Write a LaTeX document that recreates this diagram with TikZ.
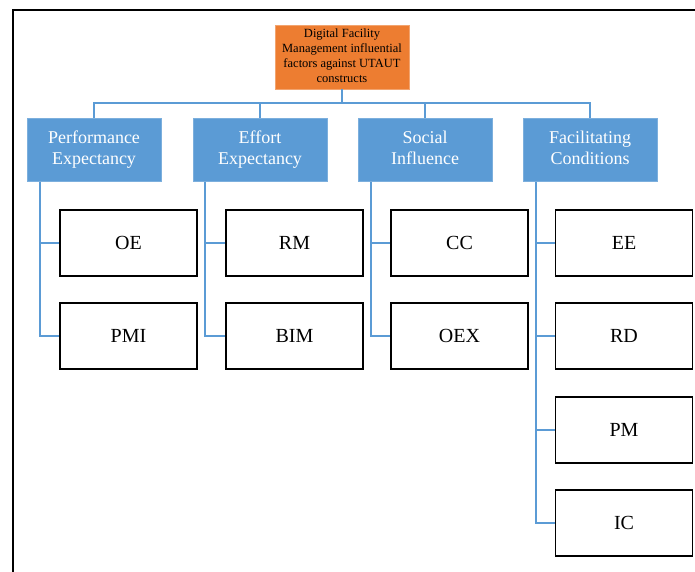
\documentclass[tikz,border=0pt]{standalone}
\usepackage{fontspec}
\setmainfont{Liberation Serif}
\definecolor{rootorange}{HTML}{ED7D31}
\definecolor{groupblue}{HTML}{5B9BD5}
\definecolor{linkblue}{HTML}{5B9BD5}
\tikzset{
  rootbox/.style={draw=rootorange!70!white, line width=0.8pt, fill=rootorange, text=black,
    minimum width=134pt, minimum height=64pt, inner sep=1pt, align=center,
    font=\fontsize{12.5}{15}\selectfont},
  groupbox/.style={draw=groupblue!80!white, line width=0.8pt, fill=groupblue, text=white,
    minimum width=134pt, minimum height=63pt, inner sep=1pt, align=center,
    font=\fontsize{18}{21}\selectfont},
  itembox/.style={draw=black, line width=1.8pt, fill=white,
    minimum width=137pt, minimum height=66pt, inner sep=1pt,
    font=\fontsize{20}{24}\selectfont},
  conn/.style={draw=linkblue, line width=1.8pt},
}
\begin{document}
\begin{tikzpicture}[x=1pt, y=-1pt]
\useasboundingbox (0,0) rectangle (695,572);
% outer frame
\draw[line width=2pt] (13,580) -- (13,10) -- (700,10);

% root
\node[rootbox] (root) at (342,57) {\strut Digital Facility\\\strut Management influential\\\strut factors against UTAUT\\\strut constructs};

% construct groups
\node[groupbox] (pe) at (94,150)  {\strut Performance\\\strut Expectancy};
\node[groupbox] (ef) at (260,150) {\strut Effort\\\strut Expectancy};
\node[groupbox] (si) at (425,150) {\strut Social\\\strut Influence};
\node[groupbox] (fc) at (590,150) {\strut Facilitating\\\strut Conditions};

% factors
\node[itembox] (oe)  at (128.5,243) {OE};
\node[itembox] (pmi) at (128.5,336) {PMI};
\node[itembox] (rm)  at (294.5,243) {RM};
\node[itembox] (bim) at (294.5,336) {BIM};
\node[itembox] (cc)  at (459.5,243) {CC};
\node[itembox] (oex) at (459.5,336) {OEX};
\node[itembox] (ee)  at (624,243) {EE};
\node[itembox] (rd)  at (624,336) {RD};
\node[itembox] (pm)  at (624,430) {PM};
\node[itembox] (ic)  at (624,523) {IC};

% bus from root to groups
\coordinate (bus) at (0,103);
\draw[conn] (root.south) -- (root.south |- bus);
\draw[conn] (pe.north) -- (pe.north |- bus) -- (fc.north |- bus) -- (fc.north);
\draw[conn] (ef.north) -- (ef.north |- bus);
\draw[conn] (si.north) -- (si.north |- bus);

% branches from groups to factors
\coordinate (pes) at ([xshift=13pt]pe.south west);
\coordinate (efs) at ([xshift=12pt]ef.south west);
\coordinate (sis) at ([xshift=13pt]si.south west);
\coordinate (fcs) at ([xshift=13pt]fc.south west);
\draw[conn] (pes) |- (pmi.west);
\draw[conn] (pes |- oe.west) -- (oe.west);
\draw[conn] (efs) |- (bim.west);
\draw[conn] (efs |- rm.west) -- (rm.west);
\draw[conn] (sis) |- (oex.west);
\draw[conn] (sis |- cc.west) -- (cc.west);
\draw[conn] (fcs) |- (ic.west);
\draw[conn] (fcs |- ee.west) -- (ee.west);
\draw[conn] (fcs |- rd.west) -- (rd.west);
\draw[conn] (fcs |- pm.west) -- (pm.west);
\end{tikzpicture}
\end{document}
